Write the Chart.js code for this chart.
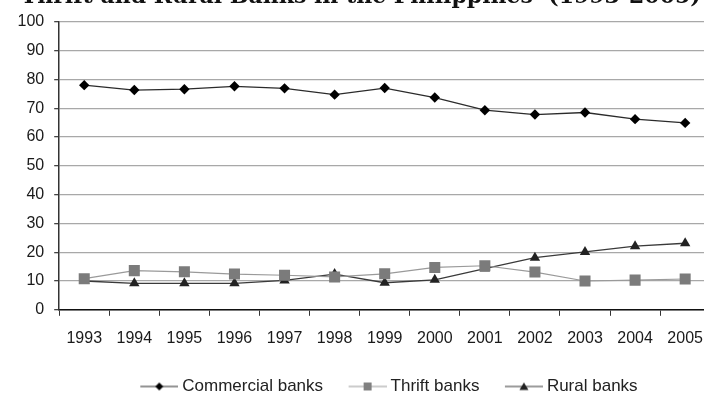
<!DOCTYPE html>
<html>
<head>
<meta charset="utf-8">
<script src="https://cdn.jsdelivr.net/npm/chart.js@4.4.1/dist/chart.umd.min.js"></script>
<style>
html, body { margin: 0; padding: 0; background: #fff; overflow: hidden; width: 704px; height: 403px; }
#wrap { position: absolute; left: 0; top: -16px; width: 718px; height: 424px; }
</style>
</head>
<body>
<div id="wrap"><canvas id="myChart"></canvas></div>
<script>
const years = ['1993', '1994', '1995', '1996', '1997', '1998', '1999', '2000', '2001', '2002', '2003', '2004', '2005']
const commercial = [78.0, 76.3, 76.6, 77.6, 76.9, 74.7, 77.0, 73.7, 69.3, 67.8, 68.5, 66.2, 64.9]
const thrift = [10.8, 13.6, 13.2, 12.4, 12.0, 11.4, 12.5, 14.7, 15.3, 13.1, 10.0, 10.3, 10.7]
const rural = [10.0, 9.2, 9.2, 9.2, 10.2, 12.4, 9.4, 10.4, 14.3, 18.1, 20.1, 22.1, 23.1]
const yTicks = [0, 10, 20, 30, 40, 50, 60, 70, 80, 90, 100]

// legend swatch: line with the marker in the middle (left margin keeps the gap between items)
function swatch(kind, lineColor, fill) {
    const c = document.createElement('canvas')
    c.width = 51
    c.height = 12
    const g = c.getContext('2d')
    g.strokeStyle = lineColor
    g.lineWidth = 1.2
    g.beginPath()
    g.moveTo(13, 6)
    g.lineTo(51, 6)
    g.stroke()
    g.fillStyle = fill
    g.beginPath()
    if (kind === 'diamond') {
        g.moveTo(32, 2); g.lineTo(36, 6); g.lineTo(32, 10); g.lineTo(28, 6)
    } else if (kind === 'square') {
        g.rect(28, 2, 8, 8)
    } else {
        g.moveTo(32, 2); g.lineTo(36.5, 9.5); g.lineTo(27.5, 9.5)
    }
    g.closePath()
    g.fill()
    return c
}

const ctx = document.getElementById('myChart').getContext('2d')

const data = {
    labels: years,
    datasets: [{
        label: 'Commercial banks',
        data: commercial,
        borderColor: '#2b2b2b',
        borderWidth: 1.3,
        backgroundColor: '#000',
        pointStyle: 'rectRot',
        pointRadius: 5.2,
        pointBorderWidth: 0,
        legendIcon: swatch('diamond', '#2b2b2b', '#000')
    }, {
        label: 'Thrift banks',
        data: thrift,
        borderColor: '#9a9a9a',
        borderWidth: 1.2,
        backgroundColor: '#7b7b7b',
        pointStyle: 'rect',
        pointRadius: 7.8,
        pointBorderWidth: 0,
        legendIcon: swatch('square', '#9a9a9a', '#808080')
    }, {
        label: 'Rural banks',
        data: rural,
        borderColor: '#3a3a3a',
        borderWidth: 1.3,
        backgroundColor: '#222',
        pointStyle: 'triangle',
        pointRadius: 6,
        pointBorderWidth: 0,
        legendIcon: swatch('triangle', '#3a3a3a', '#222')
    }]
}

const config = {
    type: 'line',
    data,
    options: {
        responsive: true,
        maintainAspectRatio: false,
        animation: false,
        layout: { padding: { left: 7.5, right: 4, bottom: 3 } },
        elements: { line: { tension: 0 } },
        plugins: {
            tooltip: { enabled: false },
            title: {
                display: true,
                text: 'Thrift and Rural Banks in the Philippines  (1993-2005)',
                color: '#111',
                font: { family: 'DejaVu Serif', size: 22, weight: 'bold' },
                padding: { top: 0, bottom: 11.4 }
            },
            legend: {
                position: 'bottom',
                fullSize: false,
                labels: {
                    color: '#222',
                    font: { family: 'Liberation Sans', size: 17 },
                    usePointStyle: true,
                    pointStyleWidth: 42,
                    padding: 17,
                    generateLabels(chart) {
                        return chart.data.datasets.map((ds, i) => ({
                            text: ds.label,
                            pointStyle: ds.legendIcon,
                            fillStyle: ds.backgroundColor,
                            strokeStyle: ds.borderColor,
                            lineWidth: 0,
                            datasetIndex: i,
                            fontColor: '#222'
                        }))
                    }
                }
            }
        },
        scales: {
            x: {
                offset: true,
                grid: { offset: true, drawOnChartArea: false, tickLength: 6, tickColor: '#333' },
                border: { color: '#111', width: 1.5 },
                ticks: { color: '#1a1a1a', font: { family: 'Liberation Sans', size: 16 }, padding: 13, maxRotation: 0, autoSkip: false }
            },
            y: {
                min: 0,
                max: 100,
                afterBuildTicks(scale) {
                    scale.ticks = yTicks.map(v => ({ value: v }))
                },
                grid: { color: '#a8a8a8', lineWidth: 1.3, tickLength: 5, tickColor: '#444' },
                border: { color: '#333', width: 1.5 },
                ticks: { color: '#1a1a1a', font: { family: 'Liberation Sans', size: 16 }, padding: 10 }
            }
        }
    }
}

const myChart = new Chart(ctx, config)
</script>
</body>
</html>
